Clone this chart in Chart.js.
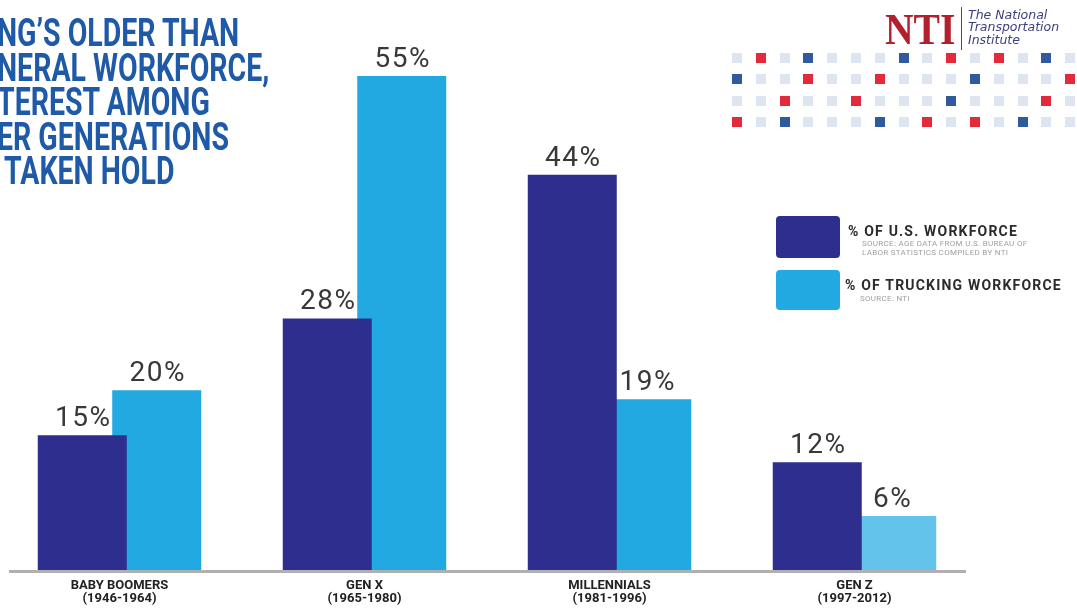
<!DOCTYPE html>
<html>
<head>
<meta charset="utf-8">
<script src="https://cdn.jsdelivr.net/npm/chart.js@4"></script>
<style>
  body { margin: 0; background: #fff; width: 1077px; height: 608px; overflow: hidden; position: relative; font-family: Roboto, sans-serif; }
  #myChart { position: absolute; left: -3px; top: 0; }
  .title { position: absolute; left: -3px; top: 16px; color: #1e5aa8; font: 700 38px/34.5px Roboto, sans-serif; transform: scaleX(0.75); transform-origin: left top; white-space: nowrap; }
  .nti { position: absolute; left: 885px; top: 4px; color: #b2202e; font: 700 44px "Liberation Serif", serif; transform: scaleX(0.9); transform-origin: left top; }
  .nti-bar { position: absolute; left: 961px; top: 7px; width: 1px; height: 43px; background: #b2202e; }
  .nti-name { position: absolute; left: 968px; top: 9px; color: #3b3f7c; font: oblique 500 12.5px/12.3px "DejaVu Sans", sans-serif; white-space: nowrap; }
  .dot { position: absolute; width: 10px; height: 10px; }
  .swatch { position: absolute; left: 776px; width: 64px; border-radius: 4px; }
  .leg { position: absolute; color: #2b2b2b; font: 700 14px Roboto, sans-serif; letter-spacing: 1.2px; white-space: nowrap; }
  .src { position: absolute; color: #a0a0a0; font: 400 8px/8.5px Roboto, sans-serif; letter-spacing: 0.3px; white-space: nowrap; }
</style>
</head>
<body>
<canvas id="myChart" width="1080" height="617"></canvas>

<div class="title">NG’S OLDER THAN<br>NERAL WORKFORCE,<br>TEREST AMONG<br>ER GENERATIONS<br>&nbsp;TAKEN HOLD</div>

<div class="nti">NTI</div>
<div class="nti-bar"></div>
<div class="nti-name">The National<br>Transportation<br>Institute</div>
<div id="dots"></div>

<div class="swatch" style="top:216px;height:42px;background:#2e2e8f"></div>
<div class="leg" style="left:848px;top:223px">% OF U.S. WORKFORCE</div>
<div class="src" style="left:862px;top:240px">SOURCE: AGE DATA FROM U.S. BUREAU OF<br>LABOR STATISTICS COMPILED BY NTI</div>
<div class="swatch" style="top:270px;height:40px;background:#22a9e1"></div>
<div class="leg" style="left:845px;top:277px">% OF TRUCKING WORKFORCE</div>
<div class="src" style="left:860px;top:295px">SOURCE: NTI</div>

<script>
var generations = [["BABY BOOMERS", "(1946-1964)"], ["GEN X", "(1965-1980)"], ["MILLENNIALS", "(1981-1996)"], ["GEN Z", "(1997-2012)"]];
var usWorkforce = [15, 28, 44, 12];
var truckingWorkforce = [20, 55, 19, 6];

// decorative square pattern next to the logo
var dotRows = ["LRLBLLLBLRLRLBL", "BLLRLLRLLLBLLLR", "LLRLLRLLLBLLLRL", "RLBLLLBLRLRLBLL"];
var dotColours = { L: "#dde5f0", R: "#e22a3a", B: "#2f5a9c" };

var dots = document.getElementById("dots");
dotRows.forEach(function (row, r) {
    for (let c = 0; c < row.length; c++) {
        var d = document.createElement("div");
        d.className = "dot";
        d.style.left = (732 + c * 23.8) + "px";
        d.style.top = (53 + r * 21.3) + "px";
        d.style.background = dotColours[row[c]];
        dots.appendChild(d);
    }
});

var baseline = {
    id: "baseline",
    afterDatasetsDraw: function (chart) {
        var ctx = chart.ctx, area = chart.chartArea;
        var y = chart.scales.y.getPixelForValue(0);
        ctx.save();
        ctx.strokeStyle = "#b0b0b0";
        ctx.lineWidth = 3;
        ctx.beginPath();
        ctx.moveTo(area.left + 12, y + 1.5);
        ctx.lineTo(area.right - 11, y + 1.5);
        ctx.stroke();
        ctx.restore();
    }
};

var valueLabels = {
    id: "valueLabels",
    afterDatasetsDraw: function (chart) {
        var ctx = chart.ctx;
        ctx.save();
        ctx.font = "400 28px Roboto";
        ctx.letterSpacing = "1.5px";
        ctx.fillStyle = "#383838";
        ctx.textAlign = "center";
        ctx.textBaseline = "alphabetic";
        chart.data.datasets.forEach(function (ds, i) {
            chart.getDatasetMeta(i).data.forEach(function (bar, j) {
                ctx.fillText(ds.data[j] + "%", bar.x + 1, bar.y - 9);
            });
        });
        ctx.restore();
    }
};

var ctx = document.getElementById("myChart").getContext("2d");
var myChart = new Chart(ctx, {
    type: "bar",
    data: {
        labels: generations,
        datasets: [{
            label: "% OF U.S. WORKFORCE",
            data: usWorkforce,
            backgroundColor: "#2e2e8f"
        }, {
            label: "% OF TRUCKING WORKFORCE",
            data: truckingWorkforce,
            backgroundColor: ["#22a9e1", "#22a9e1", "#22a9e1", "#63c3ea"]
        }]
    },
    options: {
        responsive: false,
        animation: false,
        devicePixelRatio: 1,
        categoryPercentage: 0.608,
        barPercentage: 1.195,
        layout: { padding: { left: 0, right: 100, top: 31, bottom: 3 } },
        plugins: { legend: { display: false }, tooltip: { enabled: false } },
        scales: {
            x: {
                grid: { display: false, drawTicks: false },
                border: { display: false },
                ticks: { color: "#222", padding: 9, font: { family: "Roboto", size: 13, weight: "bold", lineHeight: 1.0 } }
            },
            y: { display: false, min: 0, max: 60 }
        }
    },
    plugins: [baseline, valueLabels]
});
</script>
</body>
</html>
